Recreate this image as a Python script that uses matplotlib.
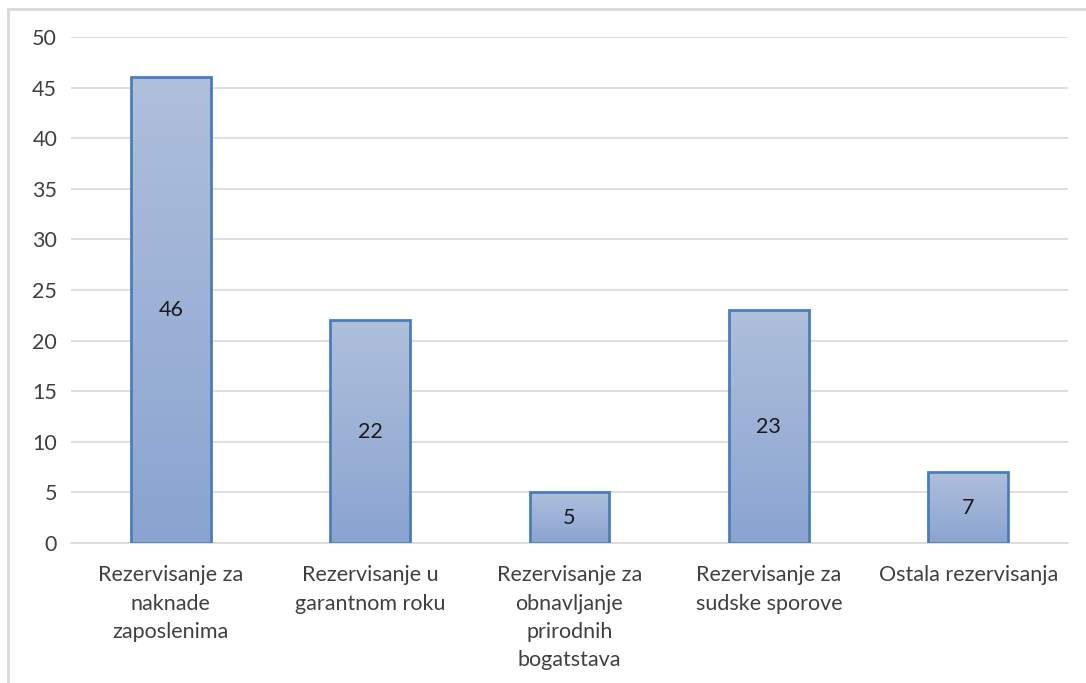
import numpy as np
import matplotlib
matplotlib.use("Agg")
import matplotlib.pyplot as plt
from matplotlib.colors import LinearSegmentedColormap
from matplotlib.lines import Line2D

categories = [
    "Rezervisanje za\nnaknade\nzaposlenima",
    "Rezervisanje u\ngarantnom roku",
    "Rezervisanje za\nobnavljanje\nprirodnih\nbogatstava",
    "Rezervisanje za\nsudske sporove",
    "Ostala rezervisanja",
]
values = [46, 22, 5, 23, 7]
y_ticks = [0, 5, 10, 15, 20, 25, 30, 35, 40, 45, 50]

plt.rcParams["font.family"] = ["Lato", "DejaVu Sans"]

fig = plt.figure(figsize=(10.86, 6.83), dpi=100)
ax = fig.add_axes([0.0654, 0.205, 0.918, 0.7408])

x = np.arange(len(values))
bars = ax.bar(x, values, width=0.4, color="none", edgecolor="#4a7ebb",
              linewidth=2.0, zorder=3)

# vertical gradient fill for each bar, clipped to its rectangle
grad = LinearSegmentedColormap.from_list("g", ["#8aa4d0", "#afbfdc"])
gimg = np.linspace(0, 1, 256).reshape(-1, 1)
for b in bars:
    x0, w, h = b.get_x(), b.get_width(), b.get_height()
    im = ax.imshow(gimg, cmap=grad, aspect="auto", origin="lower",
                   extent=(x0, x0 + w, 0, h), zorder=2, interpolation="bicubic")
    im.set_clip_path(b)

for xi, v in zip(x, values):
    ax.text(xi, v / 2, str(v), ha="center", va="center", fontsize=15.5,
            color="#1a1a1a", zorder=4)

ax.set_xlim(-0.5, len(values) - 0.5)
ax.set_ylim(0, 50)
ax.set_yticks(y_ticks)
ax.set_xticks(x)
ax.set_xticklabels(categories, fontsize=15.5, color="#404040", linespacing=1.52,
                   va="top")
ax.tick_params(axis="y", labelsize=15.5, labelcolor="#404040", length=0, pad=10)
ax.tick_params(axis="x", length=0, pad=16)
ax.grid(axis="y", color="#d9d9d9", linewidth=1.2, zorder=0)
ax.set_axisbelow(True)
for s in ["top", "right", "left"]:
    ax.spines[s].set_visible(False)
ax.spines["bottom"].set_color("#d9d9d9")
ax.spines["bottom"].set_linewidth(1.2)

# chart frame (top and left edges)
fig.add_artist(Line2D([8 / 1086, 8 / 1086], [0, 1 - 8.5 / 683],
                      transform=fig.transFigure, color="#d9d9d9", linewidth=2))
fig.add_artist(Line2D([8 / 1086, 1], [1 - 8.5 / 683, 1 - 8.5 / 683],
                      transform=fig.transFigure, color="#d9d9d9", linewidth=2))

fig.savefig("out.png", dpi=100, facecolor="white")
